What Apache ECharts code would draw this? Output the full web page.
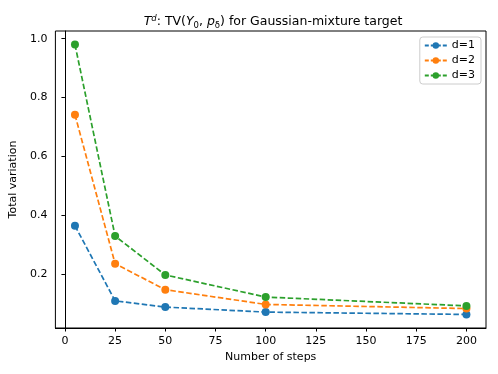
<!DOCTYPE html>
<html>
<head>
<meta charset="utf-8">
<script src="https://cdn.jsdelivr.net/npm/echarts@6/dist/echarts.min.js"></script>
<style>
html, body { margin: 0; padding: 0; background: #fff; }
#chart { width: 498px; height: 374px; }
</style>
</head>
<body>
<div id="chart"></div>
<script>
// data
const steps = [5, 25, 50, 100, 200];
const tv_d1 = [0.365, 0.110, 0.089, 0.072, 0.064];
const tv_d2 = [0.742, 0.236, 0.148, 0.098, 0.084];
const tv_d3 = [0.980, 0.330, 0.198, 0.123, 0.093];
const xTicks = [0, 25, 50, 75, 100, 125, 150, 175, 200];
const yTicks = [0.2, 0.4, 0.6, 0.8, 1.0];

const colors = ['#1f77b4', '#ff7f0e', '#2ca02c'];
const font = 'DejaVu Sans';

function pairs(ys) {
    return steps.map((x, i) => [x, ys[i]]);
}

function lineSeries(name, ys, color) {
    return {
        name: name,
        type: 'line',
        data: pairs(ys),
        symbol: 'circle',
        symbolSize: 8,
        itemStyle: {color: color},
        lineStyle: {color: color, width: 1.7, type: [5.5, 2.5]},
        emphasis: {disabled: true}
    };
}

const chart = echarts.init(document.getElementById('chart'), null, {renderer: 'canvas'});

const axisCommon = {
    axisLine: {show: true, lineStyle: {color: '#000', width: 1}},
    axisTick: {show: true, inside: false, length: 3.5, lineStyle: {color: '#000'}},
    axisLabel: {color: '#000', fontFamily: font, fontSize: 11},
    splitLine: {show: false},
    nameTextStyle: {color: '#000', fontFamily: font, fontSize: 11}
};

chart.setOption({
    animation: false,
    textStyle: {fontFamily: font},
    title: {
        text: '{i|T}{sup|d}: TV({i|Y}{sub|0}, {i|p}{sub|δ}) for Gaussian-mixture target',
        left: 268,
        textAlign: 'center',
        top: 9,
        textStyle: {
            fontFamily: font, fontSize: 12.5, fontWeight: 'normal', color: '#000',
            rich: {
                i: {fontFamily: font, fontSize: 12.5, fontStyle: 'italic', color: '#000'},
                sup: {fontFamily: font, fontSize: 8.5, fontStyle: 'italic', color: '#000', verticalAlign: 'top', lineHeight: 16},
                sub: {fontFamily: font, fontSize: 8.5, color: '#000', verticalAlign: 'bottom', lineHeight: 16}
            }
        }
    },
    grid: {
        left: 51, right: 12, top: 31, bottom: 46,
        show: true, borderColor: '#000', borderWidth: 1, backgroundColor: '#fff'
    },
    legend: {
        orient: 'vertical',
        right: 17,
        top: 37,
        padding: [3, 6, 3, 4],
        itemGap: 4,
        itemWidth: 22,
        itemHeight: 8,
        borderColor: '#cccccc',
        borderWidth: 1,
        borderRadius: 3,
        backgroundColor: '#fff',
        lineStyle: {type: [4, 2]},
        textStyle: {color: '#000', fontFamily: font, fontSize: 11},
        data: ['d=1', 'd=2', 'd=3']
    },
    xAxis: Object.assign({}, axisCommon, {
        type: 'value',
        min: -4.75,
        max: 209.75,
        name: 'Number of steps',
        nameLocation: 'middle',
        nameGap: 23,
        axisTick: Object.assign({}, axisCommon.axisTick, {customValues: xTicks}),
        axisLabel: Object.assign({}, axisCommon.axisLabel, {customValues: xTicks})
    }),
    yAxis: Object.assign({}, axisCommon, {
        type: 'value',
        min: 0.018,
        max: 1.026,
        name: 'Total variation',
        nameLocation: 'middle',
        nameGap: 29,
        axisTick: Object.assign({}, axisCommon.axisTick, {customValues: yTicks}),
        axisLabel: Object.assign({}, axisCommon.axisLabel, {
            customValues: yTicks,
            formatter: v => v.toFixed(1)
        })
    }),
    series: [
        lineSeries('d=1', tv_d1, colors[0]),
        lineSeries('d=2', tv_d2, colors[1]),
        lineSeries('d=3', tv_d3, colors[2])
    ]
});
</script>
</body>
</html>
